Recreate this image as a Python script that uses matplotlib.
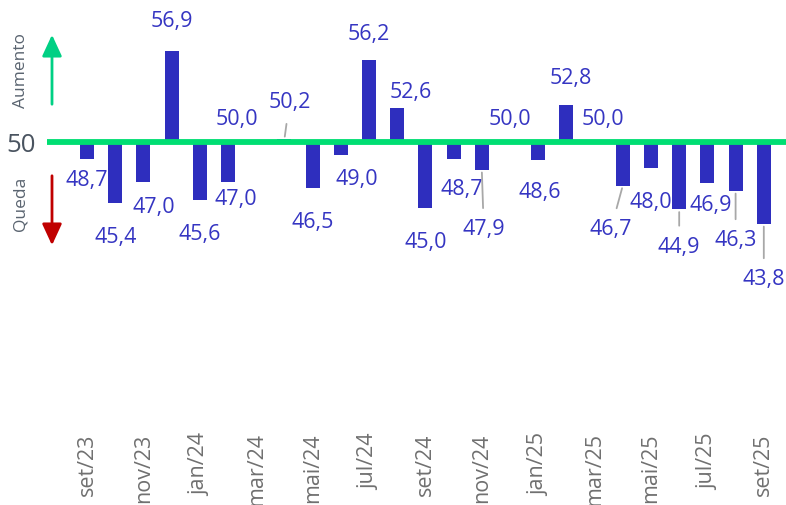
import matplotlib
matplotlib.use("Agg")
from matplotlib import pyplot as plt

plt.rcParams['font.family'] = ['Open Sans', 'DejaVu Sans']

# Monthly values (índice, base 50)
months = ["set/23", "out/23", "nov/23", "dez/23", "jan/24", "fev/24", "mar/24",
          "abr/24", "mai/24", "jun/24", "jul/24", "ago/24", "set/24", "out/24",
          "nov/24", "dez/24", "jan/25", "fev/25", "mar/25", "abr/25", "mai/25",
          "jun/25", "jul/25", "ago/25", "set/25"]
values = [48.7, 45.4, 47.0, 56.9, 45.6, 47.0, 50.0, 50.2, 46.5, 49.0, 56.2, 52.6,
          45.0, 48.7, 47.9, 50.0, 48.6, 52.8, 50.0, 46.7, 48.0, 44.9, 46.9, 46.3, 43.8]
baseline = 50

# label offsets from bar tip in pixels (dx right, dy down) and leader flag
label_dx = [0, 0, 10, 0, 0, 8, -19, 5, 0, 16, 0, 14, 0, 8, 2, 0, 2, 4, 8, -12, 0, 0, 3, 0, 0]
label_dy = [21, 35, 26, -29, 34, 18, -23, -37, 34, 24, -26, -15, 34, 30, 60, -23, 32, -27,
            -23, 44, 34, 38, 23, 50, 56]
leader = [False] * 25
for k in (7, 14, 19, 21, 23, 24):
    leader[k] = True

bar_color = '#2E2EBE'
text_color = '#3535C2'
green = '#00DE72'

fig = plt.figure(figsize=(7.86, 5.05), dpi=100)
W, H = 786, 505
ax = fig.add_axes([47 / W, (H - 425) / H, (W - 47) / W, 425 / H])

step = 28.2
ax.set_xlim(-40 / step, (W - 47 - 40) / step)
scale = 13.2
ax.set_ylim(baseline - 283 / scale, baseline + 142 / scale)

x = list(range(len(values)))
heights = [v - baseline for v in values]
ax.bar(x, heights, bottom=baseline, width=0.5, color=bar_color, zorder=2)
ax.axhline(baseline, color=green, lw=4.2, zorder=3)

for i, v in enumerate(values):
    lbl = f"{v:.1f}".replace(".", ",")
    props = None
    if leader[i]:
        props = dict(arrowstyle='-', color='#A8A8A8', lw=1.3, shrinkA=6, shrinkB=2)
    ax.annotate(lbl, xy=(i, v), xytext=(label_dx[i], -label_dy[i]),
                textcoords='offset pixels', ha='center', va='center',
                fontsize=15.5, color=text_color, arrowprops=props, zorder=4)

ax.set_xticks(x[::2])
ax.set_xticklabels(months[::2], rotation=90, va='top', ha='center',
                   fontsize=15.5, color='#707070')
ax.tick_params(axis='x', length=0, pad=6)
ax.set_yticks([baseline])
ax.set_yticklabels(["50"], fontsize=18.5, color='#4A5460')
ax.tick_params(axis='y', length=0, pad=8)
for s in ax.spines.values():
    s.set_visible(False)

# Aumento / Queda indicators
fig.text(21 / W, 1 - 70 / H, "Aumento", rotation=90, ha='center', va='center',
         fontsize=12.5, color='#5A6470')
fig.text(21 / W, 1 - 204 / H, "Queda", rotation=90, ha='center', va='center',
         fontsize=12.5, color='#5A6470')
fig.patches.append(matplotlib.patches.FancyArrowPatch(
    (52 / W, 1 - 107 / H), (52 / W, 1 - 32 / H), transform=fig.transFigure,
    arrowstyle='-|>,head_width=6,head_length=13', color='#00D084', lw=2,
    mutation_scale=1))
fig.patches.append(matplotlib.patches.FancyArrowPatch(
    (52 / W, 1 - 173 / H), (52 / W, 1 - 248 / H), transform=fig.transFigure,
    arrowstyle='-|>,head_width=6,head_length=13', color='#C00000', lw=2,
    mutation_scale=1))

fig.savefig("out.png", dpi=100)
